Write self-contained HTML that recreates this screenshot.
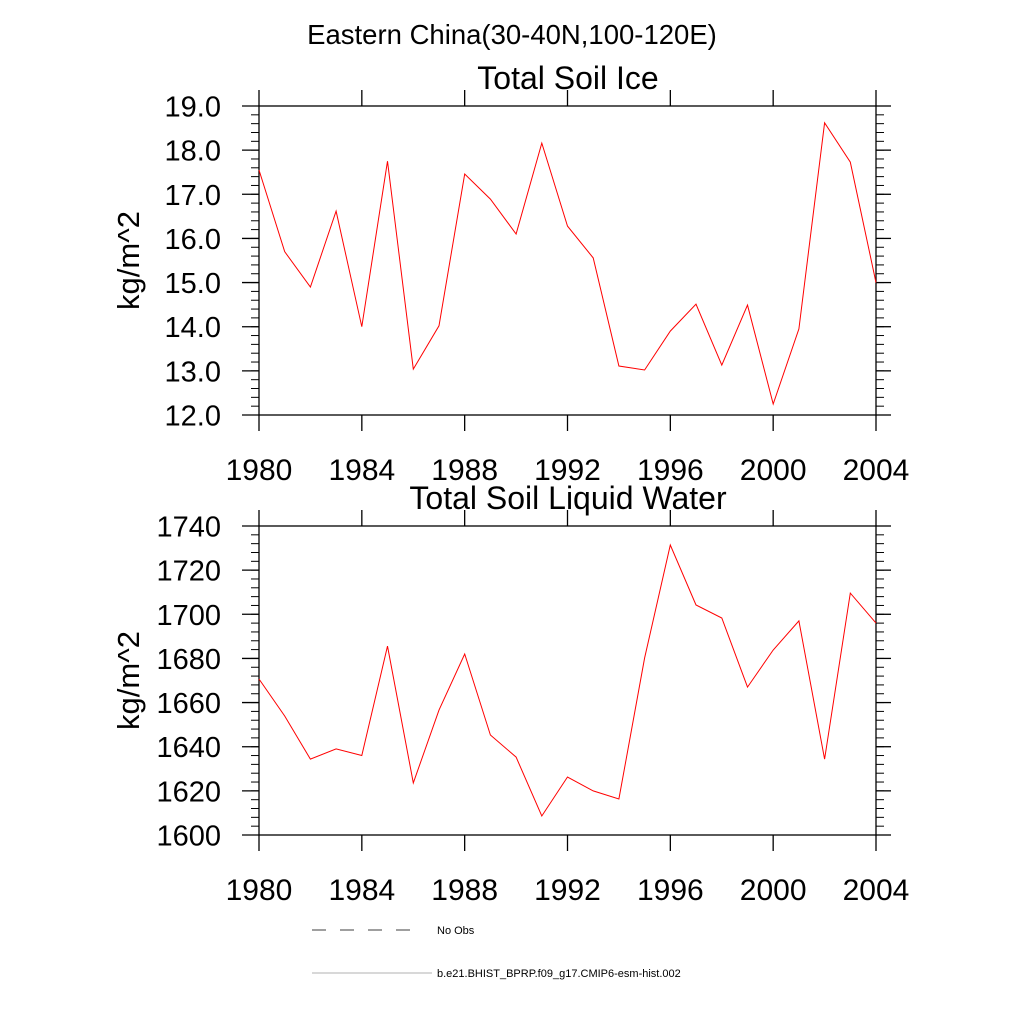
<!DOCTYPE html>
<html><head><meta charset="utf-8"><style>
body{margin:0;background:#fff}
svg text{font-family:"Liberation Sans",sans-serif}
</style></head><body>
<svg id="chart" width="1024" height="1024" viewBox="0 0 1024 1024" xmlns="http://www.w3.org/2000/svg">
<text x="512" y="44" font-size="27.5" text-anchor="middle">Eastern China(30-40N,100-120E)</text>
<g id="p1"></g>
<g id="p2"></g>
<g>
<line x1="312" y1="930" x2="420" y2="930" stroke="#000" stroke-width="0.8" stroke-dasharray="14,14"/>
<text x="437" y="934" font-size="11">No Obs</text>
<line x1="312" y1="973" x2="432" y2="973" stroke="#999" stroke-width="0.8"/>
<text x="437" y="977" font-size="11">b.e21.BHIST_BPRP.f09_g17.CMIP6-esm-hist.002</text>
</g>
</svg>
<script>
const years=[1980,1981,1982,1983,1984,1985,1986,1987,1988,1989,1990,1991,1992,1993,1994,1995,1996,1997,1998,1999,2000,2001,2002,2003,2004];
const iceValues=[17.55,15.7,14.9,16.62,14.0,17.75,13.04,14.02,17.46,16.89,16.1,18.16,16.28,15.56,13.11,13.02,13.9,14.51,13.13,14.49,12.25,13.95,18.62,17.73,15.0];
const waterValues=[1670.7,1653.9,1634.4,1639,1636,1685.6,1623.6,1656.6,1682,1645.3,1635.3,1608.6,1626.3,1620,1616.3,1680.2,1731.4,1704.2,1698.3,1667,1683.8,1697,1634.4,1709.6,1696];
const xTicks=[1980,1984,1988,1992,1996,2000,2004];
const iceTicks=[12,13,14,15,16,17,18,19];
const waterTicks=[1600,1620,1640,1660,1680,1700,1720,1740];
const NS='http://www.w3.org/2000/svg';
function mk(p,tag,a){const e=document.createElementNS(NS,tag);for(const k in a)e.setAttribute(k,a[k]);p.appendChild(e);return e;}
function panel(g,top,bot,vals,ticks,minorStep,fmt,title){
  const L=259,R=876,x0=1980,x1=2004,ymin=ticks[0],ymax=ticks[ticks.length-1];
  const X=v=>L+(v-x0)/(x1-x0)*(R-L), Y=v=>bot-(v-ymin)/(ymax-ymin)*(bot-top);
  const t=mk(g,'text',{x:568,y:top-17,'font-size':32,'text-anchor':'middle'});t.textContent=title;
  
  
  const f=mk(g,'rect',{x:L,y:top,width:R-L,height:bot-top,fill:'none',stroke:'#000','stroke-width':1.3});
  
  
  for(const xv of xTicks){const x=X(xv);
    const a=mk(g,'line',{x1:x,y1:bot,x2:x,y2:bot+16,stroke:'#000','stroke-width':1.3});
    
    
    const b=mk(g,'line',{x1:x,y1:top,x2:x,y2:top-16,stroke:'#000','stroke-width':1.3});
    
    
    const l=mk(g,'text',{x:x,y:bot+65,'font-size':30,'text-anchor':'middle'});l.textContent=xv;
    
    }
  for(let v=ymin;v<=ymax+1e-9;v+=minorStep){const y=Y(v);
    const m=mk(g,'line',{x1:L,y1:y,x2:L-8,y2:y,stroke:'#000','stroke-width':1});
    
    
    const n=mk(g,'line',{x1:R,y1:y,x2:R+8,y2:y,stroke:'#000','stroke-width':1});
    
    }
  for(const v of ticks){const y=Y(v);
    const a=mk(g,'line',{x1:L,y1:y,x2:L-17,y2:y,stroke:'#000','stroke-width':1.3});
    
    
    const b=mk(g,'line',{x1:R,y1:y,x2:R+15,y2:y,stroke:'#000','stroke-width':1.3});
    
    
    const l=mk(g,'text',{x:L-38,y:y+10.5,'font-size':29,'text-anchor':'end'});l.textContent=fmt(v);
    
    }
  const yl=mk(g,'text',{x:0,y:0,'font-size':31,'text-anchor':'middle',transform:`translate(${L-120},${(top+bot)/2}) rotate(-90)`});yl.textContent='kg/m^2';
  
  
  const pts=vals.map((v,i)=>X(years[i]).toFixed(1)+','+Y(v).toFixed(1)).join(' ');
  const pl=mk(g,'polyline',{points:pts,fill:'none',stroke:'#f00','stroke-width':1});
  
  
}
panel(document.getElementById('p1'),106,415,iceValues,iceTicks,0.2,v=>v.toFixed(1),'Total Soil Ice');
panel(document.getElementById('p2'),526,835,waterValues,waterTicks,4,v=>String(v),'Total Soil Liquid Water');
</script>
</body></html>
